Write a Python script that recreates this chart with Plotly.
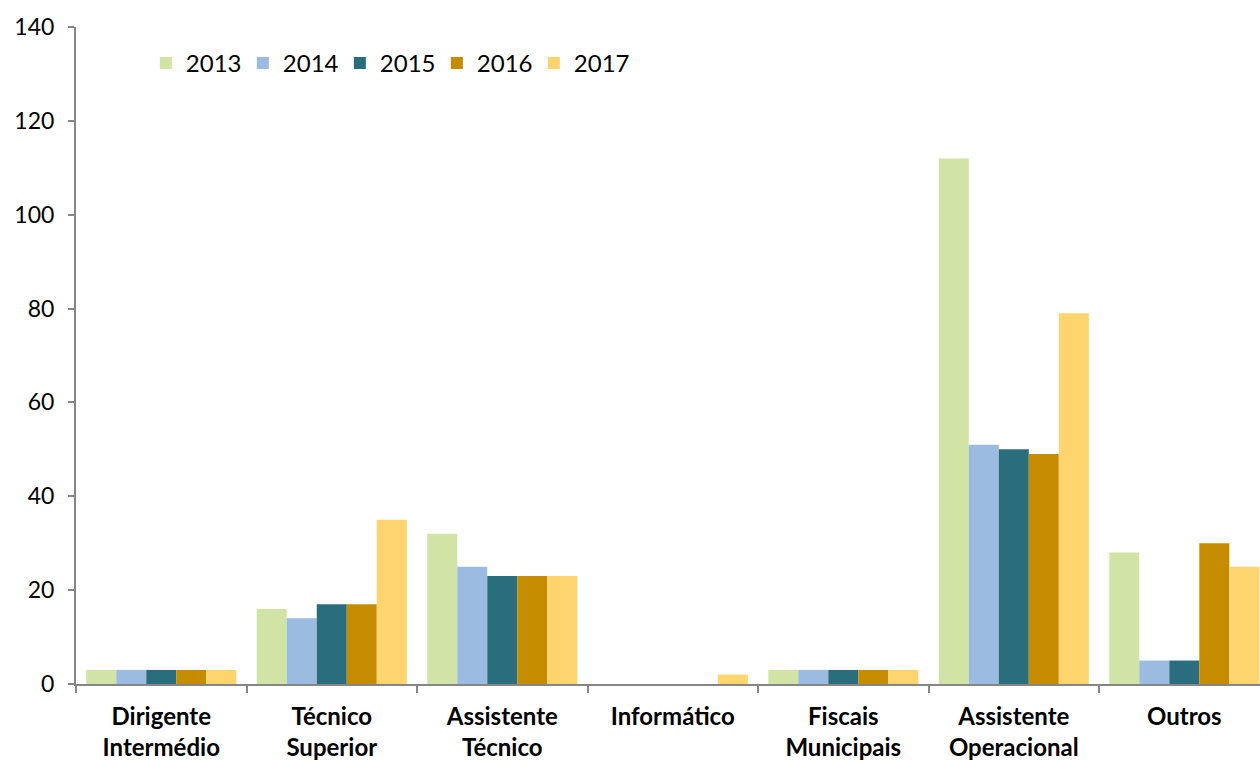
import plotly.graph_objects as go

categories = ["Dirigente<br>Intermédio", "Técnico<br>Superior", "Assistente<br>Técnico",
              "Informático", "Fiscais<br>Municipais", "Assistente<br>Operacional", "Outros"]
years = ["2013", "2014", "2015", "2016", "2017"]
v2013 = [3, 16, 32, 0, 3, 112, 28]
v2014 = [3, 14, 25, 0, 3, 51, 5]
v2015 = [3, 17, 23, 0, 3, 50, 5]
v2016 = [3, 17, 23, 0, 3, 49, 30]
v2017 = [3, 35, 23, 2, 3, 79, 25]
series = [v2013, v2014, v2015, v2016, v2017]
colors = ["#D2E4A5", "#9BBCE0", "#2A6E7E", "#C68C00", "#FED46F"]

FONT = "Lato, 'Open Sans', sans-serif"
fig = go.Figure()
for y, vals, c in zip(years, series, colors):
    fig.add_trace(go.Bar(name=y, x=categories, y=vals, marker=dict(color=c, line=dict(width=0))))

fig.update_layout(
    width=1260, height=760,
    margin=dict(l=76, r=0, t=27, b=76),
    paper_bgcolor="white", plot_bgcolor="white",
    barmode="group", bargap=0.12, bargroupgap=0,
    font=dict(family=FONT, size=24, color="#000000"),
    legend=dict(orientation="h", x=0.059, y=0.979, xanchor="left", yanchor="top",
                font=dict(size=24), itemwidth=30, tracegroupgap=0,
                entrywidth=52, entrywidthmode="pixels",
                bgcolor="rgba(0,0,0,0)"),
    showlegend=True,
)
fig.update_xaxes(
    type="category", range=[-0.5, 6.444], automargin=False,
    showline=True, linecolor="#868686", linewidth=2,
    ticks="outside", tickson="boundaries", ticklen=7, tickcolor="#868686", tickwidth=2,
    tickfont=dict(family=FONT, size=24, color="#000000", weight="bold"),
    showgrid=False, ticklabelstandoff=10,
)
fig.update_yaxes(
    range=[0, 140], tickvals=[0, 20, 40, 60, 80, 100, 120, 140], automargin=False,
    showline=True, linecolor="#868686", linewidth=2,
    ticks="outside", ticklen=6, tickcolor="#868686", tickwidth=2,
    tickfont=dict(family=FONT, size=23, color="#000000"),
    showgrid=False, zeroline=False, ticklabelstandoff=9,
)
fig.write_html(
    "out.html",
    config={"displayModeBar": False},
    post_script="document.body.style.margin='0';document.body.style.overflow='hidden';",
)
